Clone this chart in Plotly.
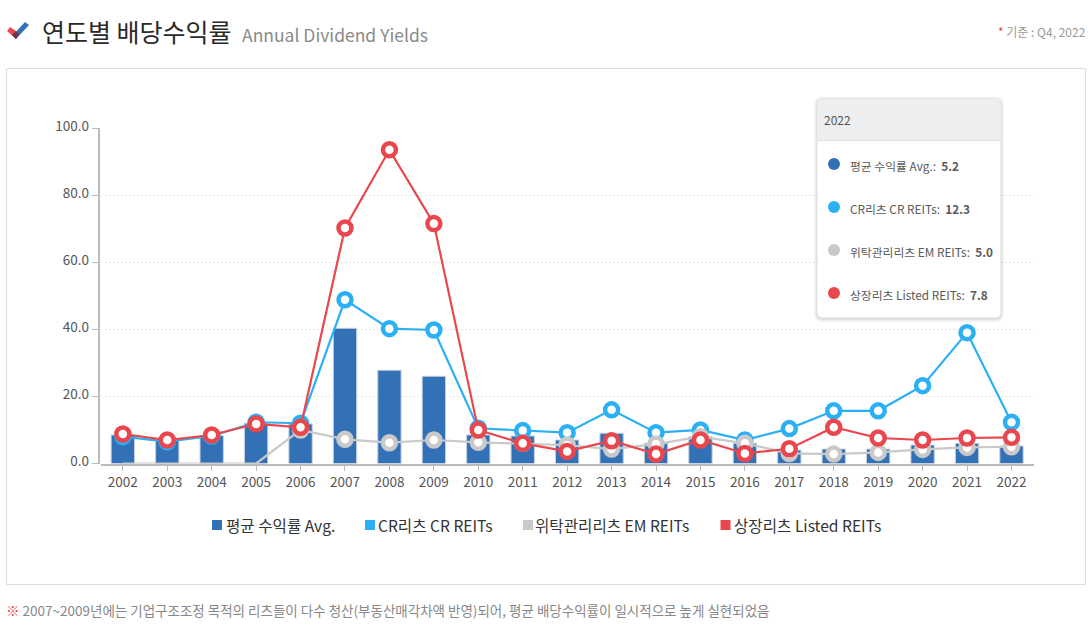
import plotly.graph_objects as go

YEARS = [str(y) for y in range(2002, 2023)]
AVG = [8.5, 7.0, 8.3, 12.0, 11.8, 40.3, 27.8, 26.0, 8.5, 8.2, 7.0, 9.0, 6.0, 8.0, 6.0, 4.0, 4.3, 4.3, 5.5, 6.0, 5.2]
CR = [8.0, 6.5, 8.2, 12.3, 12.0, 48.8, 40.2, 39.8, 10.5, 9.8, 9.2, 16.0, 9.2, 10.0, 7.0, 10.4, 15.7, 15.7, 23.2, 39.0, 12.3]
EM = [0, 0, 0, 0, 10.0, 7.2, 6.2, 7.0, 6.3, 6.0, 5.5, 4.3, 5.8, 8.0, 6.0, 3.0, 2.8, 3.3, 4.2, 4.8, 5.0]
LISTED = [8.8, 7.0, 8.5, 11.8, 10.8, 70.2, 93.5, 71.5, 10.0, 6.0, 3.6, 6.8, 2.8, 7.0, 3.0, 4.4, 10.8, 7.6, 7.0, 7.6, 7.8]
NAMES = ["평균 수익률 Avg.", "CR리츠 CR REITs", "위탁관리리츠 EM REITs", "상장리츠 Listed REITs"]
COLORS = ["#3371B7", "#2BB0F6", "#C9C9C9", "#E9474D"]
FONT = "Noto Sans CJK KR"
W, H = 1091, 633


def px(x):
    return x / W


def py(y):
    return 1 - y / H


fig = go.Figure()
fig.add_bar(x=YEARS, y=AVG, name=NAMES[0], showlegend=False,
            marker=dict(color=COLORS[0], line=dict(color="#C5D0DE", width=1)), width=0.525)
for nm, vals, col in zip(NAMES[1:], [CR, EM, LISTED], COLORS[1:]):
    # EM has no marker for the years before it existed
    sizes = [0 if (col == COLORS[2] and v == 0) else 13 for v in vals]
    widths = [0 if s == 0 else 4.5 for s in sizes]
    fig.add_scatter(x=YEARS, y=vals, name=nm, mode="lines+markers", showlegend=False, cliponaxis=False,
                    line=dict(color=col, width=2.2),
                    marker=dict(size=sizes, color="white", opacity=1, line=dict(color=col, width=widths)))


def rect(x0, y0, x1, y1, **kw):
    return dict(type="rect", xref="paper", yref="paper", x0=px(x0), x1=px(x1), y0=py(y0), y1=py(y1), **kw)


def rounded(x0, y0, x1, y1, r, top=True, bottom=True):
    def P(x, y):
        return f"{px(x)} {py(y)}"
    rt = r if top else 0
    rb = r if bottom else 0
    s = f"M {P(x0 + rt, y0)} L {P(x1 - rt, y0)} Q {P(x1, y0)} {P(x1, y0 + rt)} "
    s += f"L {P(x1, y1 - rb)} Q {P(x1, y1)} {P(x1 - rb, y1)} L {P(x0 + rb, y1)} Q {P(x0, y1)} {P(x0, y1 - rb)} "
    s += f"L {P(x0, y0 + rt)} Q {P(x0, y0)} {P(x0 + rt, y0)} Z"
    return s


shapes = [rect(6.5, 68.5, 1085.5, 584.5, line=dict(color="#DDDDDD", width=1), layer="below")]
# check icon
for path, col in [
    (f"M {px(7)} {py(31)} L {px(10)} {py(27)} L {px(19)} {py(33)} L {px(16)} {py(39)} Z", COLORS[3]),
    (f"M {px(13)} {py(35)} L {px(25)} {py(22)} L {px(29)} {py(25)} L {px(16)} {py(39)} Z", COLORS[0]),
    (f"M {px(12)} {py(35)} L {px(16)} {py(31)} L {px(19)} {py(34)} L {px(16)} {py(39)} Z", "#6E3245"),
]:
    shapes.append(dict(type="path", xref="paper", yref="paper", path=path, fillcolor=col, line=dict(width=0)))
# tooltip
for g, a in [(4, 0.02), (3, 0.03), (2, 0.04), (1, 0.05)]:
    shapes.append(dict(type="path", xref="paper", yref="paper",
                       path=rounded(817.5 - g, 99 - g + 1, 1000.5 + g, 317.5 + g + 1, 5 + g),
                       fillcolor=f"rgba(0,0,0,{a})", line=dict(width=0)))
shapes.append(dict(type="path", xref="paper", yref="paper", path=rounded(817.5, 99, 1000.5, 317.5, 5),
                   fillcolor="white", line=dict(width=0)))
shapes.append(dict(type="path", xref="paper", yref="paper", path=rounded(817.5, 99, 1000.5, 140.5, 5, bottom=False),
                   fillcolor="#ECEEF0", line=dict(width=0)))
shapes.append(dict(type="line", xref="paper", yref="paper", x0=px(817.5), x1=px(1000.5), y0=py(140.5), y1=py(140.5),
                   line=dict(color="#DDDDDD", width=1)))

annotations = []


def text(x, y, s, size, color, anchor="left"):
    annotations.append(dict(xref="paper", yref="paper", x=px(x), y=py(y), text=s, showarrow=False, xanchor=anchor,
                            yanchor="middle", align=anchor, font=dict(family=FONT, size=size, color=color),
                            borderpad=0, borderwidth=0))


text(42, 31, "연도별 배당수익률", 25, "#2A2A2A")
text(242, 35, "Annual Dividend Yields", 17.5, "#8A8A8A")
text(1086, 31.5, "<span style='color:#E9474D'>*</span> 기준 : Q4, 2022", 12, "#9A9A9A", "right")
text(6, 610, "<span style='color:#E9474D'>※</span> 2007~2009년에는 기업구조조정 목적의 리츠들이 다수 청산(부동산매각차액 반영)되어, 평균 배당수익률이 일시적으로 높게 실현되었음", 13.5, "#888888")
text(824, 120, YEARS[-1], 12, "#555555")

last = [AVG[-1], CR[-1], EM[-1], LISTED[-1]]
for i, (nm, col, v) in enumerate(zip(NAMES, COLORS, last)):
    yy = 164 + 43 * i
    shapes.append(dict(type="circle", xref="paper", yref="paper", x0=px(828), x1=px(840), y0=py(yy - 6), y1=py(yy + 6),
                       fillcolor=col, line=dict(width=0)))
    text(850, yy + 1, f"{nm}:  <b>{v:.1f}</b>", 11.8, "#5A5A5A")

# legend row
for nm, col, sx, tx in zip(NAMES, COLORS, [212, 365, 523, 720.5], [226, 378, 535, 734]):
    shapes.append(rect(sx, 520, sx + 10, 530, fillcolor=col, line=dict(width=0)))
    text(tx, 525, nm, 15.6, "#333333")

fig.update_layout(
    width=W, height=H, margin=dict(l=0, r=0, t=0, b=0, autoexpand=False), paper_bgcolor="white", plot_bgcolor="white",
    barmode="overlay", showlegend=False, font=dict(family=FONT, size=13, color="#555555"),
    shapes=shapes, annotations=annotations,
    xaxis=dict(domain=[px(100.6), px(1033.7)], type="category", range=[-0.5, 20.5], showgrid=False,
               showline=True, linecolor="#BBBBBB", linewidth=1.5, ticks="outside", ticklen=6, tickcolor="#BBBBBB",
               tickfont=dict(family=FONT, size=13.5, color="#555555"), anchor="y"),
    yaxis=dict(domain=[py(463.5), py(128)], range=[0, 100], tickvals=[0, 20, 40, 60, 80, 100], tickformat=".1f",
               showgrid=True, gridcolor="#E6E6E6", griddash="2px,2px", gridwidth=1, zeroline=False,
               showline=True, linecolor="#BBBBBB", linewidth=1.5, ticks="outside", ticklen=6, tickcolor="#BBBBBB",
               ticklabelshift=-2,
               tickfont=dict(family=FONT, size=13.5, color="#555555"), anchor="free", position=px(98.5)),
)
fig.write_html("out.html", post_script="document.body.style.margin='0';", config=dict(displayModeBar=False))
